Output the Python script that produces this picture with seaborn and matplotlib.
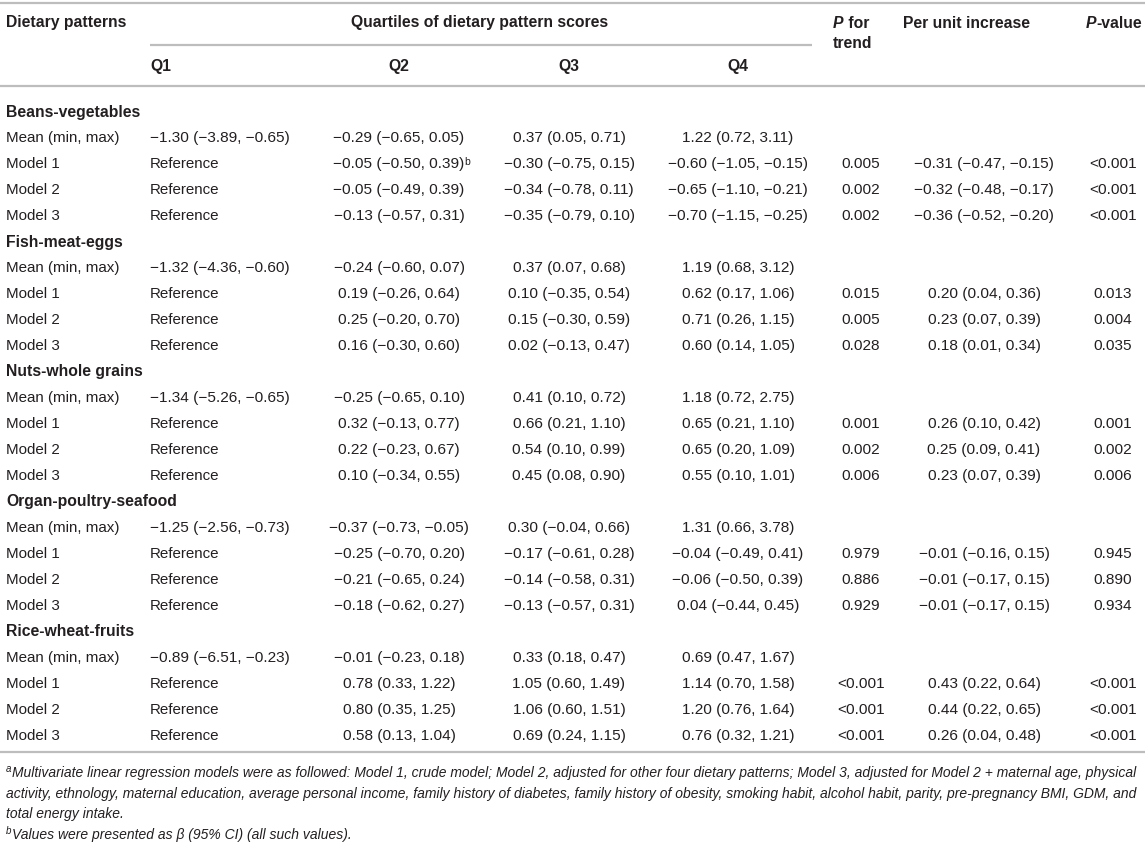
import matplotlib
matplotlib.use("Agg")
import matplotlib.pyplot as plt
from matplotlib import font_manager
import seaborn as sns

# ---------------- data ----------------
patterns = ["Beans-vegetables", "Fish-meat-eggs", "Nuts-whole grains",
            "Organ-poultry-seafood", "Rice-wheat-fruits"]
row_labels = ["Mean (min, max)", "Model 1", "Model 2", "Model 3"]
quartiles = ["Q1", "Q2", "Q3", "Q4"]

# mean (min, max) per quartile, per pattern
bv_mean = [(-1.30, -3.89, -0.65), (-0.29, -0.65, 0.05), (0.37, 0.05, 0.71), (1.22, 0.72, 3.11)]
fme_mean = [(-1.32, -4.36, -0.60), (-0.24, -0.60, 0.07), (0.37, 0.07, 0.68), (1.19, 0.68, 3.12)]
nwg_mean = [(-1.34, -5.26, -0.65), (-0.25, -0.65, 0.10), (0.41, 0.10, 0.72), (1.18, 0.72, 2.75)]
ops_mean = [(-1.25, -2.56, -0.73), (-0.37, -0.73, -0.05), (0.30, -0.04, 0.66), (1.31, 0.66, 3.78)]
rwf_mean = [(-0.89, -6.51, -0.23), (-0.01, -0.23, 0.18), (0.33, 0.18, 0.47), (0.69, 0.47, 1.67)]

# beta (95% CI) for Q2, Q3, Q4 per model
bv_models = [[(-0.05, -0.50, 0.39), (-0.30, -0.75, 0.15), (-0.60, -1.05, -0.15)],
             [(-0.05, -0.49, 0.39), (-0.34, -0.78, 0.11), (-0.65, -1.10, -0.21)],
             [(-0.13, -0.57, 0.31), (-0.35, -0.79, 0.10), (-0.70, -1.15, -0.25)]]
fme_models = [[(0.19, -0.26, 0.64), (0.10, -0.35, 0.54), (0.62, 0.17, 1.06)],
              [(0.25, -0.20, 0.70), (0.15, -0.30, 0.59), (0.71, 0.26, 1.15)],
              [(0.16, -0.30, 0.60), (0.02, -0.13, 0.47), (0.60, 0.14, 1.05)]]
nwg_models = [[(0.32, -0.13, 0.77), (0.66, 0.21, 1.10), (0.65, 0.21, 1.10)],
              [(0.22, -0.23, 0.67), (0.54, 0.10, 0.99), (0.65, 0.20, 1.09)],
              [(0.10, -0.34, 0.55), (0.45, 0.08, 0.90), (0.55, 0.10, 1.01)]]
ops_models = [[(-0.25, -0.70, 0.20), (-0.17, -0.61, 0.28), (-0.04, -0.49, 0.41)],
              [(-0.21, -0.65, 0.24), (-0.14, -0.58, 0.31), (-0.06, -0.50, 0.39)],
              [(-0.18, -0.62, 0.27), (-0.13, -0.57, 0.31), (0.04, -0.44, 0.45)]]
rwf_models = [[(0.78, 0.33, 1.22), (1.05, 0.60, 1.49), (1.14, 0.70, 1.58)],
              [(0.80, 0.35, 1.25), (1.06, 0.60, 1.51), (1.20, 0.76, 1.64)],
              [(0.58, 0.13, 1.04), (0.69, 0.24, 1.15), (0.76, 0.32, 1.21)]]

# P for trend per model
bv_ptrend = ["0.005", "0.002", "0.002"]
fme_ptrend = ["0.015", "0.005", "0.028"]
nwg_ptrend = ["0.001", "0.002", "0.006"]
ops_ptrend = ["0.979", "0.886", "0.929"]
rwf_ptrend = ["<0.001", "<0.001", "<0.001"]

# per unit increase beta (95% CI)
bv_unit = [(-0.31, -0.47, -0.15), (-0.32, -0.48, -0.17), (-0.36, -0.52, -0.20)]
fme_unit = [(0.20, 0.04, 0.36), (0.23, 0.07, 0.39), (0.18, 0.01, 0.34)]
nwg_unit = [(0.26, 0.10, 0.42), (0.25, 0.09, 0.41), (0.23, 0.07, 0.39)]
ops_unit = [(-0.01, -0.16, 0.15), (-0.01, -0.17, 0.15), (-0.01, -0.17, 0.15)]
rwf_unit = [(0.43, 0.22, 0.64), (0.44, 0.22, 0.65), (0.26, 0.04, 0.48)]

# P-value per model
bv_pval = ["<0.001", "<0.001", "<0.001"]
fme_pval = ["0.013", "0.004", "0.035"]
nwg_pval = ["0.001", "0.002", "0.006"]
ops_pval = ["0.945", "0.890", "0.934"]
rwf_pval = ["<0.001", "<0.001", "<0.001"]

footnote_a = [
    "Multivariate linear regression models were as followed: Model 1, crude model; Model 2, adjusted for other four dietary patterns; Model 3, adjusted for Model 2 + maternal age, physical",
    "activity, ethnology, maternal education, average personal income, family history of diabetes, family history of obesity, smoking habit, alcohol habit, parity, pre-pregnancy BMI, GDM, and",
    "total energy intake.",
]
footnote_b = "Values were presented as \u03b2 (95% CI) (all such values)."

all_mean = [bv_mean, fme_mean, nwg_mean, ops_mean, rwf_mean]
all_models = [bv_models, fme_models, nwg_models, ops_models, rwf_models]
all_ptrend = [bv_ptrend, fme_ptrend, nwg_ptrend, ops_ptrend, rwf_ptrend]
all_unit = [bv_unit, fme_unit, nwg_unit, ops_unit, rwf_unit]
all_pval = [bv_pval, fme_pval, nwg_pval, ops_pval, rwf_pval]


def num(v):
    s = f"{abs(v):.2f}"
    return ("\u2212" + s) if v < 0 else s


def ci(t):
    return f"{num(t[0])} ({num(t[1])}, {num(t[2])})"


# ---------------- figure ----------------
sns.set_theme(style="white")
plt.rcParams["font.family"] = ["Liberation Sans", "DejaVu Sans"]

names = {f.name for f in font_manager.fontManager.ttflist}
narrow = "Liberation Sans Narrow" if "Liberation Sans Narrow" in names else "Liberation Sans"

W, H = 1145, 854
fig = plt.figure(figsize=(W / 100, H / 100), dpi=100)
ax = fig.add_axes([0, 0, 1, 1])
ax.set_xlim(0, W)
ax.set_ylim(H, 0)
ax.axis("off")

TXT = "#231f20"
RULE = "#bdbdbd"
FS = 10.9      # body text
FSN = 11.1     # numbers
FSB = 11.3     # bold headings

# column anchors
x_lab = 6
x_q1 = 150
x_q = [399, 569, 738]
x_trend = 861
x_unit = 984
x_pval = 1113

# rules
ax.hlines([4, 87, 753], 0, W, color=RULE, lw=1.6)
ax.hlines(46, 150, 812, color=RULE, lw=1.6)

# header
ax.text(x_lab, 23, "Dietary patterns", fontsize=FSB, fontweight="bold", color=TXT, va="center")
ax.text(480, 23, "Quartiles of dietary pattern scores", fontsize=FSB, fontweight="bold",
        color=TXT, va="center", ha="center")
ax.text(x_q1, 66, quartiles[0], fontsize=FSB, fontweight="bold", color=TXT, va="center")
for xq, q in zip(x_q, quartiles[1:]):
    ax.text(xq, 66, q, fontsize=FSB, fontweight="bold", color=TXT, va="center", ha="center")

tp = ax.text(833, 28, "P", fontsize=FSB, fontweight="bold", fontstyle="italic", color=TXT,
             va="baseline", ha="left")
ax.annotate(" for", xy=(1, 0), xycoords=tp, fontsize=FSB, fontweight="bold", color=TXT,
            va="bottom", ha="left")
ax.text(833, 48, "trend", fontsize=FSB, fontweight="bold", color=TXT, va="baseline")
ax.text(903, 23, "Per unit increase", fontsize=FSB, fontweight="bold", color=TXT,
        va="center", ha="left")
pv = ax.text(1086, 28, "P", fontsize=FSB, fontweight="bold", fontstyle="italic", color=TXT,
             va="baseline", ha="left")
ax.annotate("-value", xy=(1, 0), xycoords=pv, fontsize=FSB, fontweight="bold", color=TXT,
            va="bottom", ha="left")

# body
y0 = 112.0
dy = 26.0
r = 0
for i, pat in enumerate(patterns):
    y = y0 + r * dy
    ax.text(x_lab, y, pat, fontsize=FSB, fontweight="bold", color=TXT, va="center")
    r += 1
    y = y0 + r * dy
    ax.text(x_lab, y, row_labels[0], fontsize=FS, color=TXT, va="center")
    ax.text(x_q1, y, ci(all_mean[i][0]), fontsize=FSN, color=TXT, va="center")
    for xq, t in zip(x_q, all_mean[i][1:]):
        ax.text(xq, y, ci(t), fontsize=FSN, color=TXT, va="center", ha="center")
    r += 1
    for m in range(3):
        y = y0 + r * dy
        ax.text(x_lab, y, row_labels[m + 1], fontsize=FS, color=TXT, va="center")
        ax.text(x_q1, y, "Reference", fontsize=FS, color=TXT, va="center")
        for k, (xq, t) in enumerate(zip(x_q, all_models[i][m])):
            tt = ax.text(xq, y, ci(t), fontsize=FSN, color=TXT, va="center", ha="center")
            if i == 0 and m == 0 and k == 0:
                ax.annotate("b", xy=(1, 1), xycoords=tt, fontsize=7.5, color=TXT,
                            va="top", ha="left")
        ax.text(x_trend, y, all_ptrend[i][m], fontsize=FSN, color=TXT, va="center", ha="center")
        ax.text(x_unit, y, ci(all_unit[i][m]), fontsize=FSN, color=TXT, va="center", ha="center")
        ax.text(x_pval, y, all_pval[i][m], fontsize=FSN, color=TXT, va="center", ha="center")
        r += 1

# footnotes (font size fitted so the first line spans the table width)
fig.canvas.draw()
renderer = fig.canvas.get_renderer()
probe = ax.text(0, 0, footnote_a[0], fontsize=10, fontstyle="italic", family=narrow)
wpx = probe.get_window_extent(renderer).width
probe.remove()
FFS = 10 * (1140 - 12) / wpx

fy = [773, 794, 814, 835]
ax.text(x_lab, fy[0] - 4, "a", fontsize=FFS * 0.7, fontstyle="italic", family=narrow,
        color=TXT, va="center")
ax.text(12, fy[0], footnote_a[0], fontsize=FFS, fontstyle="italic", family=narrow,
        color=TXT, va="center")
for yy, line in zip(fy[1:3], footnote_a[1:]):
    ax.text(x_lab, yy, line, fontsize=FFS, fontstyle="italic", family=narrow,
            color=TXT, va="center")
ax.text(x_lab, fy[3] - 4, "b", fontsize=FFS * 0.7, fontstyle="italic", family=narrow,
        color=TXT, va="center")
ax.text(12, fy[3], footnote_b, fontsize=FFS, fontstyle="italic", family=narrow,
        color=TXT, va="center")

fig.savefig("out.png", dpi=100, facecolor="white")
